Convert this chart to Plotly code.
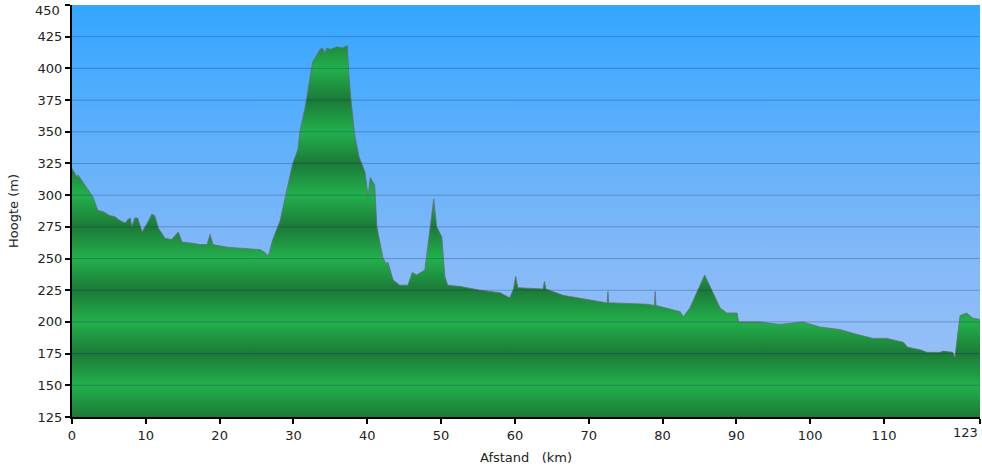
import plotly.graph_objects as go

dist_km = [0.0, 0.1, 0.7, 0.8, 1.5, 2.4, 2.8, 3.5, 4.2, 5.1, 5.8, 6.5, 7.2, 7.6, 7.9, 8.1, 8.5, 8.9,
           9.2, 9.5, 10.3, 10.8, 11.2, 11.7, 12.6, 13.5, 14.4, 14.9, 16.4, 17.3, 18.3, 18.7, 19.1,
           21.0, 23.2, 25.5, 26.1, 26.6, 27.2, 28.2, 29.1, 29.9, 30.6, 30.9, 31.6, 32.2, 32.6, 32.9,
           33.6, 33.9, 34.3, 34.5, 35.0, 35.9, 36.6, 37.3, 37.5, 37.8, 38.3, 38.9, 39.7, 40.1, 40.4,
           41.0, 41.3, 42.1, 42.5, 42.8, 43.1, 43.5, 44.4, 45.5, 46.1, 46.7, 47.8, 48.5, 49.0, 49.4,
           50.1, 50.5, 50.9, 52.6, 55.3, 58.0, 59.3, 59.8, 60.1, 60.4, 63.8, 64.0, 64.2, 66.5, 70.2,
           72.5, 72.6, 72.7, 73.3, 77.9, 78.9, 79.0, 79.1, 80.6, 82.4, 82.8, 83.7, 85.7, 86.8, 87.8,
           88.7, 90.1, 90.3, 93.2, 95.9, 99.0, 101.3, 104.0, 105.8, 108.5, 110.4, 112.6, 113.2,
           114.9, 115.8, 117.6, 118.0, 119.3, 119.6, 120.3, 121.2, 122.0, 123.0]
elev_m = [321, 320, 314, 316, 310, 303, 299, 288, 287, 284, 283, 280, 278, 281, 282, 275, 282, 282,
          276, 271, 279, 285, 284, 274, 266, 265, 271, 263, 262, 261, 261, 269, 261,
          259, 258, 257, 255, 252, 265, 280, 304, 325, 336, 351, 370, 391, 405, 408,
          415, 416, 412, 416, 415, 417, 416, 418, 395, 375, 347, 330, 318, 299, 314,
          308, 275, 251, 246, 247, 241, 233, 229, 229, 239, 237, 241, 273, 297, 275,
          267, 236, 229, 228, 225, 223, 219, 226, 236, 227, 226, 232, 226, 221, 217,
          215, 224, 215, 215, 214, 213, 224, 213, 211, 208, 204, 211, 237, 224, 211,
          207, 207, 200, 200, 198, 200, 196, 194, 191, 187, 187, 184, 180,
          178, 176, 176, 177, 176, 172, 205, 207, 203, 202]

y_ticks = [125, 150, 175, 200, 225, 250, 275, 300, 325, 350, 375, 400, 425, 450]
y_tick_labels = ["125", "150", "175", "200", "225", "250", "275", "300", "325", "350",
                 "375", "400", "425", ""]
x_ticks = [0, 10, 20, 30, 40, 50, 60, 70, 80, 90, 100, 110, 123]
x_tick_labels = ["0", "10", "20", "30", "40", "50", "60", "70", "80", "90", "100", "110", ""]
y_range = [125, 450]
x_range = [0, 123]

FONT = "Verdana, DejaVu Sans, sans-serif"
TXT = dict(family=FONT, size=13, color="#222")

# periodic green banding (dark on 125+50k, light on 150+50k)
span = y_range[1] - y_range[0]
green_scale = []
k = 0
while True:
    p_dark = (k * 50) / span
    p_light = (k * 50 + 25) / span
    if p_dark > 1:
        break
    green_scale.append([p_dark, "rgb(27,122,55)"])
    if p_light > 1:
        break
    green_scale.append([p_light, "rgb(35,176,76)"])
    k += 1
if green_scale[-1][0] < 1:
    green_scale.append([1.0, green_scale[-1][1]])

fig = go.Figure()

# sky background gradient
fig.add_trace(go.Scatter(
    x=x_range, y=[y_range[1], y_range[1]], mode="lines", fill="tozeroy",
    line=dict(width=0), hoverinfo="skip", showlegend=False,
    fillgradient=dict(type="vertical", start=y_range[0], stop=y_range[1],
                      colorscale=[[0, "rgb(160,196,244)"], [0.4, "rgb(130,184,248)"],
                                  [1, "rgb(52,166,255)"]]),
))

# elevation profile
fig.add_trace(go.Scatter(
    x=dist_km, y=elev_m, mode="lines", fill="tozeroy",
    line=dict(color="rgba(105,105,115,0.75)", width=1),
    hoverinfo="skip", showlegend=False,
    fillgradient=dict(type="vertical", start=y_range[0], stop=y_range[1],
                      colorscale=green_scale),
))

shapes = []
for v in y_ticks[1:-1]:
    shapes.append(dict(type="line", xref="paper", x0=0, x1=1, yref="y", y0=v, y1=v,
                       line=dict(color="rgba(10,40,90,0.28)", width=1), layer="above"))

fig.update_layout(
    width=982, height=468,
    margin=dict(l=72, r=2, t=5, b=51, autoexpand=False),
    paper_bgcolor="white", plot_bgcolor="white",
    font=TXT,
    shapes=shapes,
    xaxis=dict(range=x_range, tickvals=x_ticks, ticktext=x_tick_labels, automargin=False,
               showgrid=False, zeroline=False, showline=True, linecolor="black", linewidth=2,
               ticks="outside", ticklen=5, tickwidth=2, tickcolor="black",
               title=dict(text="Afstand\u00a0\u00a0\u00a0(km)", standoff=11, font=TXT),
               layer="above traces"),
    yaxis=dict(range=y_range, tickvals=y_ticks, ticktext=y_tick_labels, automargin=False,
               showgrid=False, zeroline=False, showline=True, linecolor="black", linewidth=2,
               ticks="outside", ticklen=5, tickwidth=2, tickcolor="black",
               title=dict(text="Hoogte (m)", standoff=16, font=TXT),
               layer="above traces"),
    annotations=[
        dict(x=x_range[1], y=0, xref="x", yref="paper", yanchor="top", xanchor="right",
             text=str(x_ticks[-1]), showarrow=False, yshift=-6, font=TXT),
        dict(x=0, y=y_ticks[-1], xref="paper", yref="y", yanchor="top", xanchor="right",
             text=str(y_ticks[-1]), showarrow=False, xshift=-10, yshift=4, font=TXT),
    ],
)

fig.write_html("out.html", config={"displayModeBar": False},
               post_script="document.body.style.margin='0';")
